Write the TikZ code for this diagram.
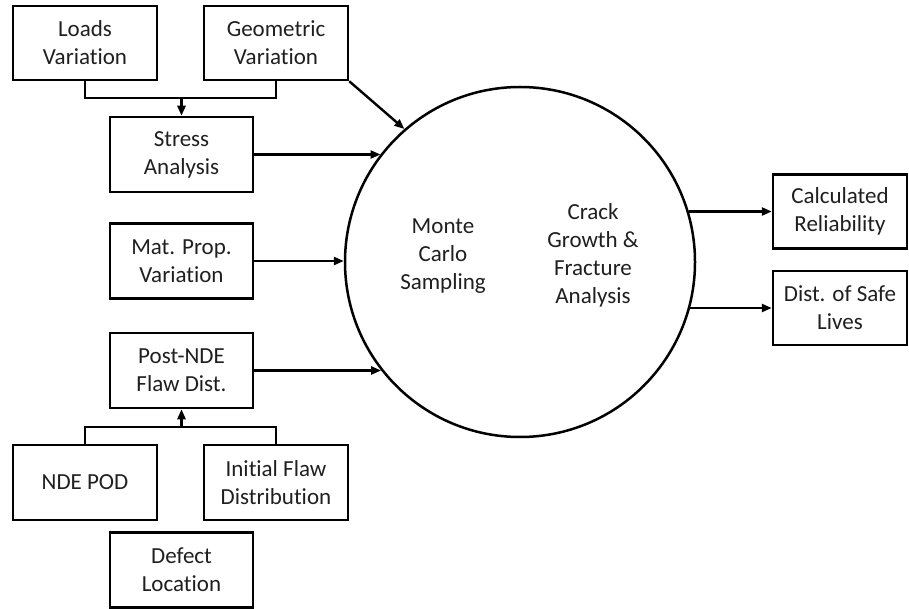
\documentclass[tikz,border=0pt]{standalone}
\usepackage{fontspec}
\setmainfont[Ligatures=NoCommon]{Carlito}
\usetikzlibrary{arrows.meta,calc}
\begin{document}
\begin{tikzpicture}[x=1pt,y=-1pt,
 box/.style={draw,line width=2.5pt,minimum width=144pt,minimum height=74pt,align=center,inner sep=0pt,font=\fontsize{23}{28}\selectfont,text=black!88},
 arr/.style={line width=2.4pt,-{Triangle[length=10pt,width=8pt]}},
 ln/.style={line width=2.4pt},
 big/.style={draw,circle,line width=2.5pt,minimum size=350pt,inner sep=0pt},
 lbl/.style={align=center,inner sep=0pt,font=\fontsize{23}{28}\selectfont,text=black!88}]
\useasboundingbox (0,0) rectangle (909,609);
\node[box] (loads) at (85,43) {Loads\\Variation};
\node[box] (geom) at (276,43) {Geometric\\Variation};
\node[box,minimum width=143pt,minimum height=75pt] (stress) at (181.5,154.5) {Stress\\Analysis};
\node[box,minimum width=143pt,minimum height=75pt] (mat) at (181.5,261) {Mat. Prop.\\Variation};
\node[box,minimum width=143pt,minimum height=75pt] (post) at (181.5,370.5) {Post-NDE\\Flaw Dist.};
\node[box,minimum height=75pt] (nde) at (85,482.5) {NDE POD};
\node[box,minimum height=75pt] (init) at (276,482.5) {Initial Flaw\\Distribution};
\node[box,minimum width=143pt,minimum height=75pt] (defect) at (181.5,570) {Defect\\Location};
\node[box,minimum width=134pt] (calc) at (840,211.5) {Calculated\\Reliability};
\node[box,minimum width=134pt] (dist) at (840,308) {Dist. of Safe\\Lives};
\node[big] (mc) at (520,262) {};
\node[lbl] (mcs) at (443,256) {Monte\\Carlo\\Sampling};
\node[lbl] (cg) at (593,255) {Crack\\Growth \&\\Fracture\\Analysis};
\coordinate (j1) at (181.5,98);
\draw[ln] (loads.south) |- (j1) -| (geom.south);
\draw[arr] (j1) -- (stress.north);
\coordinate (j2) at (181.5,427);
\draw[ln] (nde.north) |- (j2) -| (init.north);
\draw[arr] (j2) -- (post.south);
\coordinate (pS) at ($(mc.center)+(-139.5,-107.5)$);
\coordinate (pM) at ($(mc.center)+(-176.2,-1)$);
\coordinate (pP) at ($(mc.center)+(-138.9,108.5)$);
\coordinate (pC) at ($(mc.center)+(168.9,-50.5)$);
\coordinate (pD) at ($(mc.center)+(170.1,46)$);
\draw[arr] (geom.south east) -- (mc.131);
\draw[arr] (stress.east) -- (pS);
\draw[arr] (mat.east) -- (pM);
\draw[arr] (post.east) -- (pP);
\draw[arr] (pC) -- (calc.west);
\draw[arr] (pD) -- (dist.west);
\end{tikzpicture}
\end{document}
